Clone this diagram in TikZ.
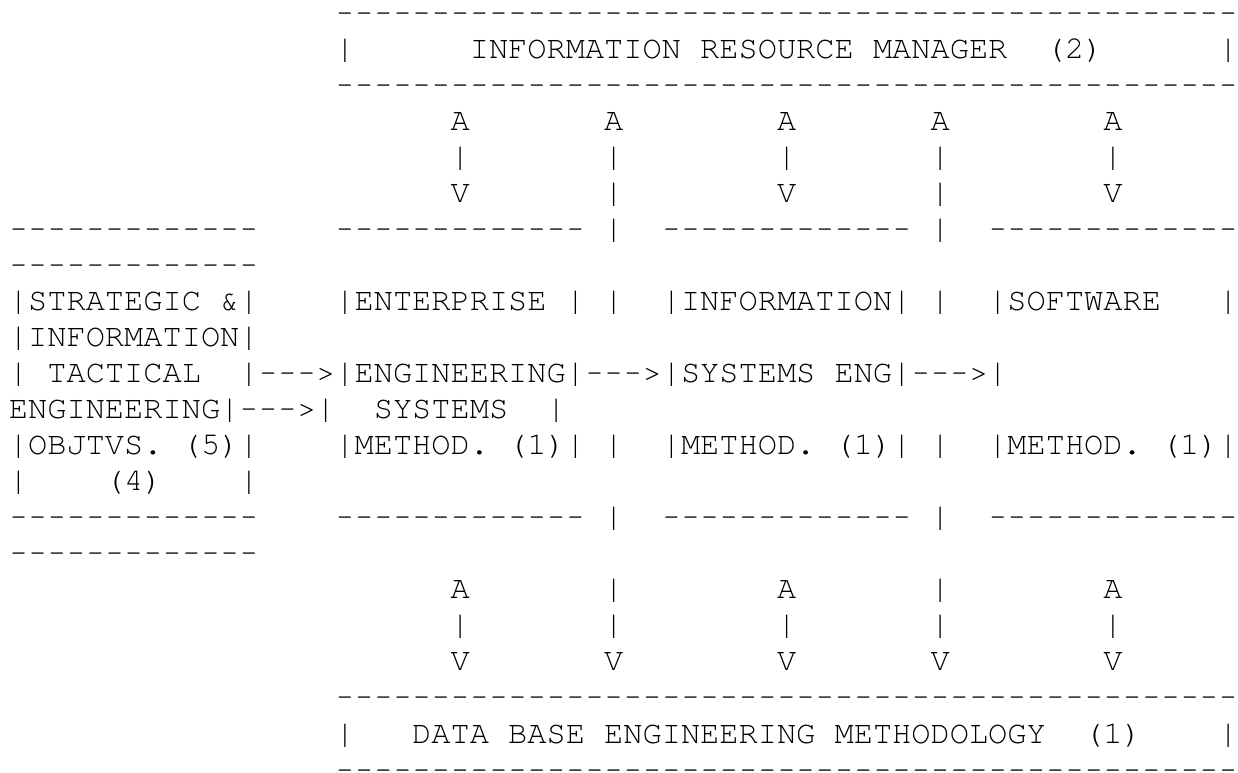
\documentclass[tikz,border=0pt]{standalone}
\usepackage{fontspec}
\usepackage{graphicx}
\setmonofont{TeX Gyre Cursor}
\newcommand\hyph{\makebox[0.6em]{\scalebox{0.84}[1]{-}}}
\ExplSyntaxOn
\cs_new:Npn \mydashes #1 { \prg_replicate:nn {#1} {\hyph} }
\ExplSyntaxOff
\frenchspacing
\tikzset{asc/.style={font=\ttfamily\fontsize{32pt}{36pt}\selectfont, inner sep=0pt, outer sep=0pt, anchor=base west, text=black, text height=20pt, text depth=3pt}}
\newcommand\seg[4]{\node[asc] (#1) at (#2,#3) {#4};}
\begin{document}
\begin{tikzpicture}[x=19.2pt, y=-36.05pt]
\useasboundingbox (0pt,0pt) rectangle (1238pt,-772pt);
\fill[white] (0pt,0pt) rectangle (1238pt,-772pt);
\begin{scope}[shift={(9pt,-22pt)}]
% top box: Information Resource Manager
\seg{irmtop}{17}{0}{\mydashes{47}}
\seg{irml}{17}{1}{|}
\seg{irmt}{24}{1}{INFORMATION RESOURCE MANAGER}
\seg{irmn}{54}{1}{(2)}
\seg{irmr}{63}{1}{|}
\seg{irmbot}{17}{2}{\mydashes{47}}
% upper arrows
\seg{ua1}{23}{3}{A}\seg{ua2}{31}{3}{A}\seg{ua3}{40}{3}{A}\seg{ua4}{48}{3}{A}\seg{ua5}{57}{3}{A}
\seg{ub1}{23}{4}{|}\seg{ub2}{31}{4}{|}\seg{ub3}{40}{4}{|}\seg{ub4}{48}{4}{|}\seg{ub5}{57}{4}{|}
\seg{uc1}{23}{5}{V}\seg{uc2}{31}{5}{|}\seg{uc3}{40}{5}{V}\seg{uc4}{48}{5}{|}\seg{uc5}{57}{5}{V}
% box tops
\seg{sttop}{0}{6}{\mydashes{13}}
\seg{eetop}{17}{6}{\mydashes{13}}
\seg{vt1}{31}{6}{|}
\seg{istop}{34}{6}{\mydashes{13}}
\seg{vt2}{48}{6}{|}
\seg{swtop}{51}{6}{\mydashes{13}}
\seg{sttop2}{0}{7}{\mydashes{13}}
% row 9
\seg{st1}{0}{8}{|STRATEGIC \&|}
\seg{ee1}{17}{8}{|ENTERPRISE |}
\seg{v91}{31}{8}{|}
\seg{is1}{34}{8}{|INFORMATION|}
\seg{v92}{48}{8}{|}
\seg{sw1}{51}{8}{|SOFTWARE}
\seg{sw1r}{63}{8}{|}
% row 10
\seg{st2}{0}{9}{|INFORMATION|}
% row 11
\seg{st3l}{0}{10}{|}
\seg{st3}{2}{10}{TACTICAL}
\seg{flow}{12}{10}{|\hyph\hyph\hyph>|ENGINEERING|\hyph\hyph\hyph>|SYSTEMS ENG|\hyph\hyph\hyph>|}
% row 12
\seg{st4}{0}{11}{ENGINEERING|\hyph\hyph\hyph>|}
\seg{ee4}{19}{11}{SYSTEMS}
\seg{ee4r}{28}{11}{|}
% row 13
\seg{st5}{0}{12}{|OBJTVS. (5)|}
\seg{ee5}{17}{12}{|METHOD. (1)|}
\seg{v131}{31}{12}{|}
\seg{is5}{34}{12}{|METHOD. (1)|}
\seg{v132}{48}{12}{|}
\seg{sw5}{51}{12}{|METHOD. (1)|}
% row 14
\seg{st6l}{0}{13}{|}
\seg{st6}{5}{13}{(4)}
\seg{st6r}{12}{13}{|}
% box bottoms
\seg{stbot}{0}{14}{\mydashes{13}}
\seg{eebot}{17}{14}{\mydashes{13}}
\seg{vb1}{31}{14}{|}
\seg{isbot}{34}{14}{\mydashes{13}}
\seg{vb2}{48}{14}{|}
\seg{swbot}{51}{14}{\mydashes{13}}
\seg{stbot2}{0}{15}{\mydashes{13}}
% lower arrows
\seg{la1}{23}{16}{A}\seg{la2}{31}{16}{|}\seg{la3}{40}{16}{A}\seg{la4}{48}{16}{|}\seg{la5}{57}{16}{A}
\seg{lb1}{23}{17}{|}\seg{lb2}{31}{17}{|}\seg{lb3}{40}{17}{|}\seg{lb4}{48}{17}{|}\seg{lb5}{57}{17}{|}
\seg{lc1}{23}{18}{V}\seg{lc2}{31}{18}{V}\seg{lc3}{40}{18}{V}\seg{lc4}{48}{18}{V}\seg{lc5}{57}{18}{V}
% bottom box: Data Base Engineering Methodology
\seg{dbtop}{17}{19}{\mydashes{47}}
\seg{dbl}{17}{20}{|}
\seg{dbt}{21}{20}{DATA BASE ENGINEERING METHODOLOGY}
\seg{dbn}{56}{20}{(1)}
\seg{dbr}{63}{20}{|}
\seg{dbbot}{17}{21}{\mydashes{47}}
\end{scope}
\end{tikzpicture}
\end{document}
